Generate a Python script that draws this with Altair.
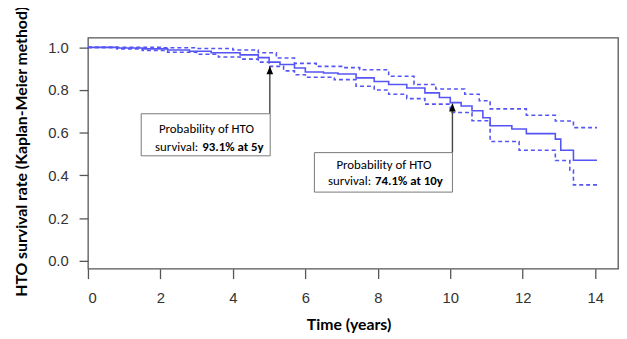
import altair as alt
import pandas as pd

# Kaplan-Meier estimate (step function)
t_main = [0, 0.8, 1.5, 2.2, 2.8, 3.4, 4.2, 4.7, 5.0, 5.3, 5.7, 6.0, 6.5, 6.9, 7.4, 7.9, 8.3, 8.8,
          9.3, 9.7, 10.0, 10.3, 10.6, 10.9, 11.1, 11.7, 12.1, 12.9, 13.05, 13.4, 14.05]
s_main = [1.0, 0.997, 0.993, 0.988, 0.982, 0.975, 0.965, 0.952, 0.931, 0.92, 0.903, 0.885, 0.88, 0.875,
          0.857, 0.84, 0.826, 0.81, 0.787, 0.765, 0.741, 0.725, 0.703, 0.67, 0.633, 0.618, 0.596, 0.570,
          0.518, 0.471, 0.471]

# Upper 95% confidence limit
t_upper = [0, 1.0, 2.0, 3.0, 4.0, 4.7, 5.2, 5.7, 6.3, 7.0, 7.5, 8.3, 9.0, 9.6, 10.4, 10.8, 11.1,
           12.1, 12.9, 13.4, 14.05]
s_upper = [1.0, 1.0, 0.998, 0.995, 0.988, 0.975, 0.95, 0.925, 0.911, 0.905, 0.895, 0.865, 0.826,
           0.805, 0.78, 0.75, 0.712, 0.682, 0.655, 0.624, 0.624]

# Lower 95% confidence limit
t_lower = [0, 0.8, 1.5, 2.2, 3.0, 3.6, 4.2, 4.7, 5.0, 5.4, 5.7, 6.0, 6.8, 7.4, 7.9, 8.3, 8.8, 9.3,
           10.0, 10.6, 11.1, 11.9, 12.9, 13.3, 13.4, 14.05]
s_lower = [1.0, 0.993, 0.985, 0.977, 0.968, 0.955, 0.945, 0.931, 0.911, 0.89, 0.872, 0.86, 0.849,
           0.818, 0.80, 0.78, 0.76, 0.734, 0.695, 0.656, 0.559, 0.518, 0.47, 0.425, 0.356, 0.356]

x_ticks = [0, 2, 4, 6, 8, 10, 12, 14]
y_ticks = [0.0, 0.2, 0.4, 0.6, 0.8, 1.0]

# Annotation boxes
box_x1 = [1.47, 6.25]
box_x2 = [5.03, 10.06]
box_y1 = [0.689, 0.507]
box_y2 = [0.492, 0.322]
arrow_t = [5.02, 10.06]
arrow_tip = [0.911, 0.737]
line1_t = [3.27, 8.17]
line1_s = [0.619, 0.448]
line1_txt = ["Probability of HTO", "Probability of HTO"]
split_t = [3.1, 7.87]
line2_s = [0.535, 0.376]
line2a_txt = ["survival:", "survival:"]
line2b_txt = ["93.1% at 5y", "74.1% at 10y"]

BLUE = "#5555f5"
ANN_FONT = "Calibri, Carlito, Lato, sans-serif"
TITLE_FONT = "Lato"

main_df = pd.DataFrame({"t": t_main, "s": s_main})
up_df = pd.DataFrame({"t": t_upper, "s": s_upper})
lo_df = pd.DataFrame({"t": t_lower, "s": s_lower})
ann_df = pd.DataFrame({
    "x1": box_x1, "x2": box_x2, "y1": box_y1, "y2": box_y2,
    "at": arrow_t, "tip": arrow_tip,
    "l1t": line1_t, "l1s": line1_s, "l1": line1_txt,
    "st": split_t, "l2s": line2_s, "l2a": line2a_txt, "l2b": line2b_txt,
})

xs = alt.Scale(domain=[0, 14.63], nice=False, zero=False)
ys = alt.Scale(domain=[-0.037, 1.045], nice=False, zero=False)

x_axis = alt.Axis(values=x_ticks, title="Time (years)", grid=False, domain=False,
                  tickSize=10, tickColor="#555", tickWidth=1.3,
                  labelFont="Liberation Sans", labelFontSize=15, labelColor="#333",
                  labelPadding=12, format="d",
                  titleFont=TITLE_FONT, titleFontSize=16, titleFontWeight="bold",
                  titleColor="black", titleX=264, titleY=62, titleBaseline="alphabetic")
y_axis = alt.Axis(values=y_ticks, title="HTO survival rate (Kaplan-Meier method)", grid=False,
                  domain=False, tickSize=9, tickColor="#555", tickWidth=1.3,
                  labelFont="Liberation Sans", labelFontSize=15, labelColor="#333",
                  labelPadding=11, format=".1f",
                  titleFont=TITLE_FONT, titleFontSize=16, titleFontWeight="bold",
                  titleColor="black", titleX=-62, titleY=115, titleBaseline="alphabetic")

main = alt.Chart(main_df).mark_line(color=BLUE, strokeWidth=1.6, interpolate="step-after").encode(
    x=alt.X("t:Q", scale=xs, axis=x_axis),
    y=alt.Y("s:Q", scale=ys, axis=y_axis),
)
upper = alt.Chart(up_df).mark_line(color=BLUE, strokeWidth=1.6, strokeDash=[4, 3],
                                   interpolate="step-after").encode(
    x=alt.X("t:Q", scale=xs), y=alt.Y("s:Q", scale=ys))
lower = alt.Chart(lo_df).mark_line(color=BLUE, strokeWidth=1.6, strokeDash=[4, 3],
                                   interpolate="step-after").encode(
    x=alt.X("t:Q", scale=xs), y=alt.Y("s:Q", scale=ys))

base = alt.Chart(ann_df)
boxes = base.mark_rect(fill="white", stroke="#777", strokeWidth=1).encode(
    x=alt.X("x1:Q", scale=xs), x2="x2:Q", y=alt.Y("y1:Q", scale=ys), y2="y2:Q")
arrows = base.mark_rule(color="#444", strokeWidth=1.4).encode(
    x=alt.X("at:Q", scale=xs), y=alt.Y("y1:Q", scale=ys), y2="tip:Q")
heads = base.mark_point(shape="M0,0 L0.42,1 L-0.42,1 Z", size=256, filled=True,
                        color="black", opacity=1).encode(
    x=alt.X("at:Q", scale=xs), y=alt.Y("tip:Q", scale=ys))
txt1 = base.mark_text(font=ANN_FONT, fontSize=13, color="black", align="center",
                      baseline="middle").encode(
    x=alt.X("l1t:Q", scale=xs), y=alt.Y("l1s:Q", scale=ys), text="l1:N")
txt2a = base.mark_text(font=ANN_FONT, fontSize=13, color="black", align="right",
                       baseline="middle", dx=-2).encode(
    x=alt.X("st:Q", scale=xs), y=alt.Y("l2s:Q", scale=ys), text="l2a:N")
txt2b = base.mark_text(font=ANN_FONT, fontSize=13, color="black", align="left",
                       baseline="middle", fontWeight="bold", dx=2).encode(
    x=alt.X("st:Q", scale=xs), y=alt.Y("l2s:Q", scale=ys), text="l2b:N")

chart = alt.layer(main, upper, lower, arrows, boxes, heads, txt1, txt2a, txt2b).properties(
    width=537, height=234,
    autosize=alt.AutoSizeParams(type="none"),
    padding={"left": 81, "top": 28, "right": 1, "bottom": 67},
).configure(background="white").configure_view(stroke="#555", strokeWidth=1.3)

chart.save("out.html", embed_options={"renderer": "svg", "actions": False})
